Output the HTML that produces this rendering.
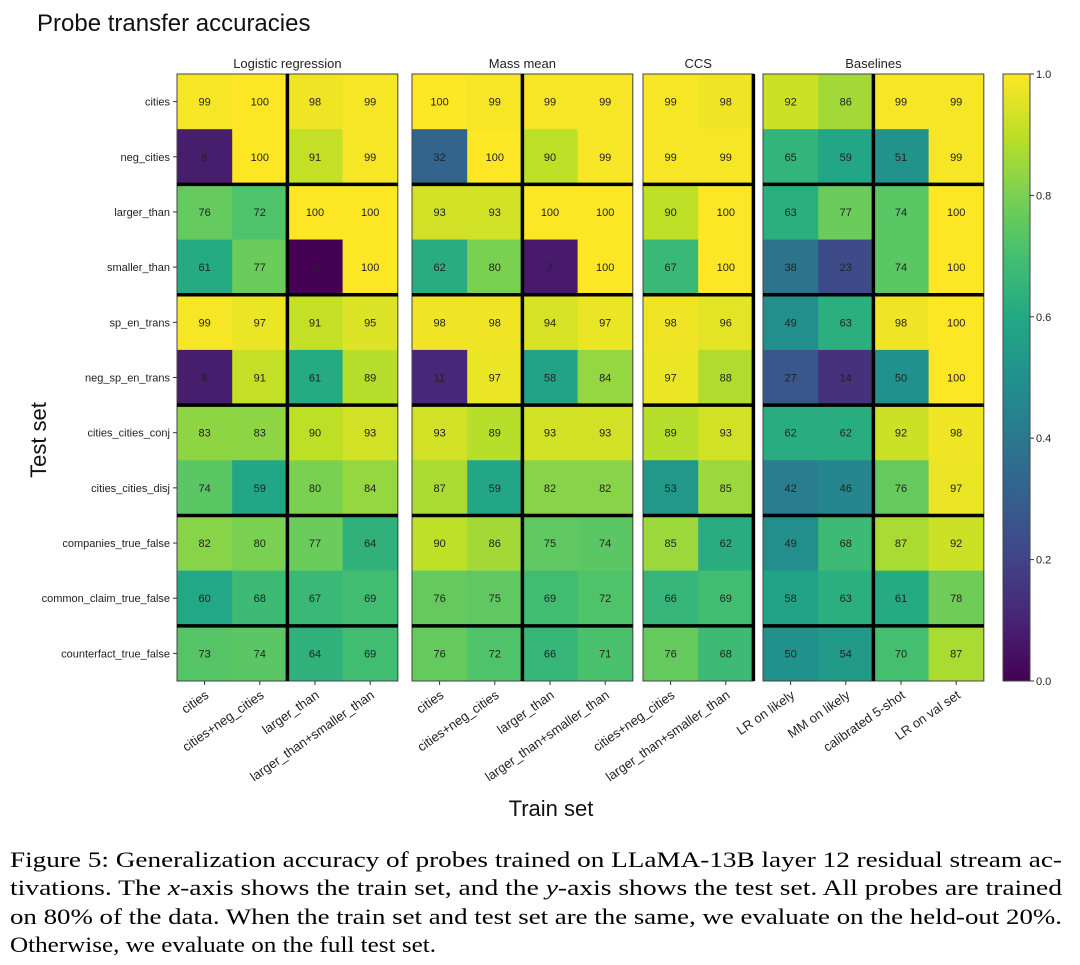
<!DOCTYPE html>
<html><head><meta charset="utf-8"><style>
html,body{margin:0;padding:0;background:#fff;width:1080px;height:965px;overflow:hidden}
svg{display:block}
</style></head><body>
<svg id="fig" width="1080" height="965" xmlns="http://www.w3.org/2000/svg" font-family="Liberation Sans, DejaVu Sans, sans-serif">
<text x="37" y="31" font-size="24" fill="#111">Probe transfer accuracies</text>
<text transform="translate(46,440) rotate(-90)" text-anchor="middle" font-size="22" fill="#111">Test set</text>
<text x="551" y="816" text-anchor="middle" font-size="22" fill="#111">Train set</text>
<g font-family="Liberation Serif, serif" font-size="22" fill="#000">
<text x="10" y="867" textLength="1052" lengthAdjust="spacingAndGlyphs">Figure 5: Generalization accuracy of probes trained on LLaMA-13B layer 12 residual stream ac-</text>
<text x="10" y="895" textLength="1052" lengthAdjust="spacingAndGlyphs">tivations. The <tspan font-style="italic">x</tspan>-axis shows the train set, and the <tspan font-style="italic">y</tspan>-axis shows the test set. All probes are trained</text>
<text x="10" y="924" textLength="1052" lengthAdjust="spacingAndGlyphs">on 80% of the data. When the train set and test set are the same, we evaluate on the held-out 20%.</text>
<text x="10" y="952" textLength="426" lengthAdjust="spacingAndGlyphs">Otherwise, we evaluate on the full test set.</text>
</g>
<g id="plots"></g>
</svg>
<script>
const testSets = ["cities","neg_cities","larger_than","smaller_than","sp_en_trans","neg_sp_en_trans","cities_cities_conj","cities_cities_disj","companies_true_false","common_claim_true_false","counterfact_true_false"];
const lrTrain = ["cities","cities+neg_cities","larger_than","larger_than+smaller_than"];
const mmTrain = ["cities","cities+neg_cities","larger_than","larger_than+smaller_than"];
const ccsTrain = ["cities+neg_cities","larger_than+smaller_than"];
const baseTrain = ["LR on likely","MM on likely","calibrated 5-shot","LR on val set"];
const lrValues = [[99,100,98,99],[8,100,91,99],[76,72,100,100],[61,77,0,100],[99,97,91,95],[8,91,61,89],[83,83,90,93],[74,59,80,84],[82,80,77,64],[60,68,67,69],[73,74,64,69]];
const mmValues = [[100,99,99,99],[32,100,90,99],[93,93,100,100],[62,80,7,100],[98,98,94,97],[11,97,58,84],[93,89,93,93],[87,59,82,82],[90,86,75,74],[76,75,69,72],[76,72,66,71]];
const ccsValues = [[99,98],[99,99],[90,100],[67,100],[98,96],[97,88],[89,93],[53,85],[85,62],[66,69],[76,68]];
const baseValues = [[92,86,99,99],[65,59,51,99],[63,77,74,100],[38,23,74,100],[49,63,98,100],[27,14,50,100],[62,62,92,98],[42,46,76,97],[49,68,87,92],[58,63,61,78],[50,54,70,87]];
const colorbarTicks = [0,0.2,0.4,0.6,0.8,1.0];
const colorbarTickLabels = ["0.0","0.2","0.4","0.6","0.8","1.0"];

const NS="http://www.w3.org/2000/svg";
const top0=74, bot0=681, cellW=55.2;
const rowH=(bot0-top0)/testSets.length;
const yScale=i=>top0+i*rowH;
const vir=["#440154","#482475","#414487","#355f8d","#2a788e","#21918c","#22a884","#44bf70","#7ad151","#bddf26","#fde725"];
function hex(h){return [1,3,5].map(i=>parseInt(h.substr(i,2),16));}
function viridis(t){t=Math.max(0,Math.min(1,t));const p=t*10,i=Math.min(9,Math.floor(p)),f=p-i;const a=hex(vir[i]),b=hex(vir[i+1]);return "rgb("+a.map((v,k)=>Math.round(v+(b[k]-v)*f)).join(",")+")";}
const root=document.getElementById('plots');
function mk(tag,attrs,parent){const e=document.createElementNS(NS,tag);for(const k in attrs)e.setAttribute(k,attrs[k]);(parent||root).appendChild(e);return e;}

const panels=[
 {name:"logistic-regression",title:"Logistic regression",x0:177,cols:lrTrain,vals:lrValues,vsplit:[2]},
 {name:"mass-mean",title:"Mass mean",x0:412,cols:mmTrain,vals:mmValues,vsplit:[2]},
 {name:"ccs",title:"CCS",x0:643,cols:ccsTrain,vals:ccsValues,vsplit:[2]},
 {name:"baselines",title:"Baselines",x0:763,cols:baseTrain,vals:baseValues,vsplit:[2]}
];
panels.forEach((p,pi)=>{
 const g=mk('g',{});
 
 
 const xScale=j=>p.x0+j*cellW;
 const w=p.cols.length*cellW;
 p.vals.forEach((row,i)=>row.forEach((v,j)=>{
  const r=mk('rect',{x:xScale(j),y:yScale(i),width:cellW+0.5,height:rowH+0.5,fill:viridis(v/100)},g);
  
  
  const t=mk('text',{x:xScale(j)+cellW/2,y:yScale(i)+rowH/2+4,'text-anchor':'middle','font-size':11,fill:'#222'},g);
  t.textContent=v;
  
  
 }));
 mk('rect',{x:p.x0,y:top0,width:w,height:bot0-top0,fill:'none',stroke:'#444','stroke-width':1},g);
 for(let k=2;k<testSets.length;k+=2){
  const l=mk('line',{x1:p.x0,x2:p.x0+w,y1:yScale(k),y2:yScale(k),stroke:'#000','stroke-width':3.5},g);
  
  
 }
 p.vsplit.forEach(c=>{
  const l=mk('line',{x1:xScale(c),x2:xScale(c),y1:top0,y2:bot0,stroke:'#000','stroke-width':3.5},g);
  
  
 });
 const tt=mk('text',{x:p.x0+w/2,y:68,'text-anchor':'middle','font-size':13,fill:'#222'},g);
 tt.textContent=p.title;
 
 
 p.cols.forEach((c,j)=>{
  const cx=xScale(j)+cellW/2;
  mk('line',{x1:cx,x2:cx,y1:bot0,y2:bot0+4,stroke:'#333'},g);
  const t=mk('text',{transform:'translate('+(cx+5)+','+(bot0+16)+') rotate(-35)','text-anchor':'end','font-size':13,fill:'#222'},g);
  t.textContent=c;
  
  
 });
 if(pi===0){
  testSets.forEach((s,i)=>{
   const cy=yScale(i)+rowH/2;
   mk('line',{x1:p.x0-4,x2:p.x0,y1:cy,y2:cy,stroke:'#333'},g);
   const t=mk('text',{x:p.x0-7,y:cy+4,'text-anchor':'end','font-size':11,fill:'#222'},g);
   t.textContent=s;
   
   
  });
 }
});
// colorbar
const cb=mk('g',{});


const defs=mk('defs',{},cb);
const grad=mk('linearGradient',{id:'vg',x1:0,y1:1,x2:0,y2:0},defs);
vir.forEach((c,i)=>mk('stop',{offset:(i*10)+'%','stop-color':c},grad));
const cbx=1003,cbw=27;
mk('rect',{x:cbx,y:top0,width:cbw,height:bot0-top0,fill:'url(#vg)',stroke:'#444'},cb);
const cbScale=v=>bot0-v*(bot0-top0);
colorbarTicks.forEach((v,i)=>{
 mk('line',{x1:cbx+cbw,x2:cbx+cbw+4,y1:cbScale(v),y2:cbScale(v),stroke:'#333'},cb);
 const t=mk('text',{x:cbx+cbw+6,y:cbScale(v)+4,'font-size':11,fill:'#222'},cb);
 t.textContent=colorbarTickLabels[i];
 
 
});
</script>
</body></html>
